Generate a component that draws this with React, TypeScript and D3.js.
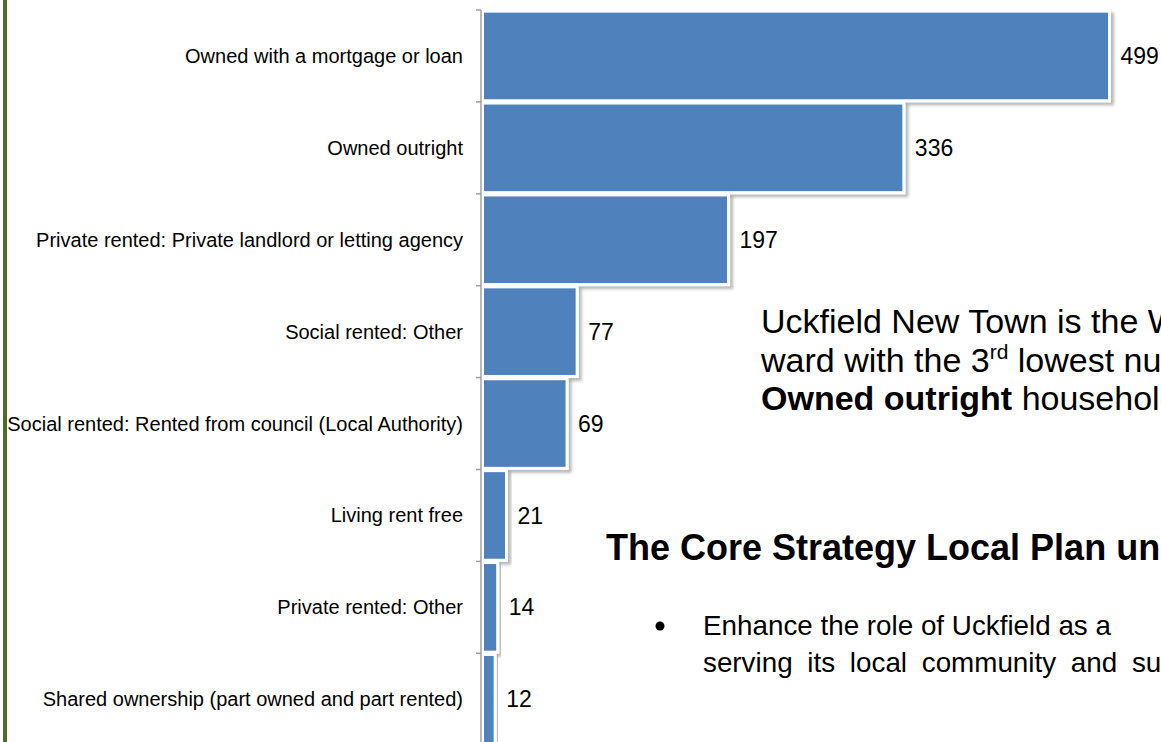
import React, { useEffect, useRef } from "react";
import * as d3 from "d3";

// tenure categories, largest first
const categories: string[] = [
  "Owned with a mortgage or loan",
  "Owned outright",
  "Private rented: Private landlord or letting agency",
  "Social rented: Other",
  "Social rented: Rented from council (Local Authority)",
  "Living rent free",
  "Private rented: Other",
  "Shared ownership (part owned and part rented)",
];

// number of households
const households: number[] = [499, 336, 197, 77, 69, 21, 14, 12];

const WIDTH = 1161;
const HEIGHT = 742;
const FONT = "'Liberation Sans', Arial, sans-serif";

const App: React.FC = () => {
  const svgRef = useRef<SVGSVGElement>(null);

  useEffect(() => {
    if (!svgRef.current) return;

    const svg = d3.select(svgRef.current);
    svg.selectAll("*").remove();

    const data = categories.map((c, i) => ({ label: c, value: households[i] }));

    // drop shadow for the bars
    const defs = svg.append("defs");
    const shadow = defs
      .append("filter")
      .attr("id", "barShadow")
      .attr("x", "-10%")
      .attr("y", "-10%")
      .attr("width", "130%")
      .attr("height", "130%");
    shadow
      .append("feDropShadow")
      .attr("dx", 3)
      .attr("dy", 3)
      .attr("stdDeviation", 1.6)
      .attr("flood-color", "#000")
      .attr("flood-opacity", 0.28);

    // scales
    const pad = 0.025;
    const y = d3
      .scaleBand<string>()
      .domain(categories)
      .range([10, 10 + 91.9 * categories.length])
      .paddingInner(pad)
      .paddingOuter(pad / 2);

    const x = d3.scaleLinear().domain([0, 499]).range([480, 1109.5]);

    // green page border on the left
    svg
      .append("rect")
      .attr("x", 3)
      .attr("y", 0)
      .attr("width", 4)
      .attr("height", HEIGHT)
      .attr("fill", "#4f6a2b");

    // bars
    svg
      .append("g")
      .selectAll("rect")
      .data(data)
      .enter()
      .append("rect")
      .attr("x", x(0) + 2.5)
      .attr("y", (d) => y(d.label)!)
      .attr("width", (d) => x(d.value) - x(0) - 2.5)
      .attr("height", y.bandwidth())
      .attr("fill", "#4f81bd")
      .attr("stroke", "#fff")
      .attr("stroke-width", 3)
      .attr("filter", "url(#barShadow)");

    // category axis
    const axis = svg.append("g");
    axis
      .append("line")
      .attr("x1", 481)
      .attr("x2", 481)
      .attr("y1", 10)
      .attr("y2", HEIGHT)
      .attr("stroke", "#a0a0a0")
      .attr("stroke-width", 1.5);

    const bounds = categories.map((c) => y(c)! - (y.step() * pad) / 2);
    axis
      .selectAll(".tick")
      .data(bounds)
      .enter()
      .append("line")
      .attr("class", "tick")
      .attr("x1", 476)
      .attr("x2", 481)
      .attr("y1", (d) => d)
      .attr("y2", (d) => d)
      .attr("stroke", "#a0a0a0")
      .attr("stroke-width", 1.5);

    // category labels
    svg
      .append("g")
      .selectAll("text")
      .data(data)
      .enter()
      .append("text")
      .attr("x", 463)
      .attr("y", (d) => y(d.label)! + y.bandwidth() / 2)
      .attr("dy", "0.35em")
      .attr("text-anchor", "end")
      .style("font-family", FONT)
      .style("font-size", "20px")
      .style("fill", "#000")
      .text((d) => d.label);

    // value labels
    svg
      .append("g")
      .selectAll("text")
      .data(data)
      .enter()
      .append("text")
      .attr("x", (d) => x(d.value) + 11)
      .attr("y", (d) => y(d.label)! + y.bandwidth() / 2)
      .attr("dy", "0.35em")
      .style("font-family", FONT)
      .style("font-size", "23px")
      .style("fill", "#000")
      .text((d) => d.value);

    // document text overlapping the chart (cropped at the right edge, as in the page)
    const note = svg
      .append("text")
      .style("font-family", FONT)
      .style("font-size", "34px")
      .style("fill", "#000");
    note.append("tspan").attr("x", 761).attr("y", 333).text("Uckfield New Town is the Wealden");
    const l2 = note.append("tspan").attr("x", 761).attr("y", 372);
    l2.append("tspan").text("ward with the 3");
    l2.append("tspan").attr("dy", -13).style("font-size", "21px").text("rd");
    l2.append("tspan").attr("dy", 13).text(" lowest number of");
    const l3 = note.append("tspan").attr("x", 761).attr("y", 410);
    l3.append("tspan").style("font-weight", "bold").text("Owned outright");
    l3.append("tspan").text(" households.");

    svg
      .append("text")
      .attr("x", 606)
      .attr("y", 560)
      .style("font-family", FONT)
      .style("font-size", "36px")
      .style("font-weight", "bold")
      .style("fill", "#000")
      .text("The Core Strategy Local Plan underlines");

    svg
      .append("circle")
      .attr("cx", 660)
      .attr("cy", 626)
      .attr("r", 4.5)
      .attr("fill", "#000");

    const bullet = svg
      .append("text")
      .style("font-family", FONT)
      .style("font-size", "27.8px")
      .style("fill", "#000");
    bullet.append("tspan").attr("x", 703).attr("y", 635).text("Enhance the role of Uckfield as a");
    bullet
      .append("tspan")
      .attr("x", 703)
      .attr("y", 672)
      .style("word-spacing", "7px")
      .text("serving its local community and surrounding area");
  }, []);

  return (
    <div style={{ position: "absolute", left: 0, top: 0, background: "#fff" }}>
      <svg ref={svgRef} width={WIDTH} height={HEIGHT} style={{ display: "block" }} />
    </div>
  );
};

export default App;
